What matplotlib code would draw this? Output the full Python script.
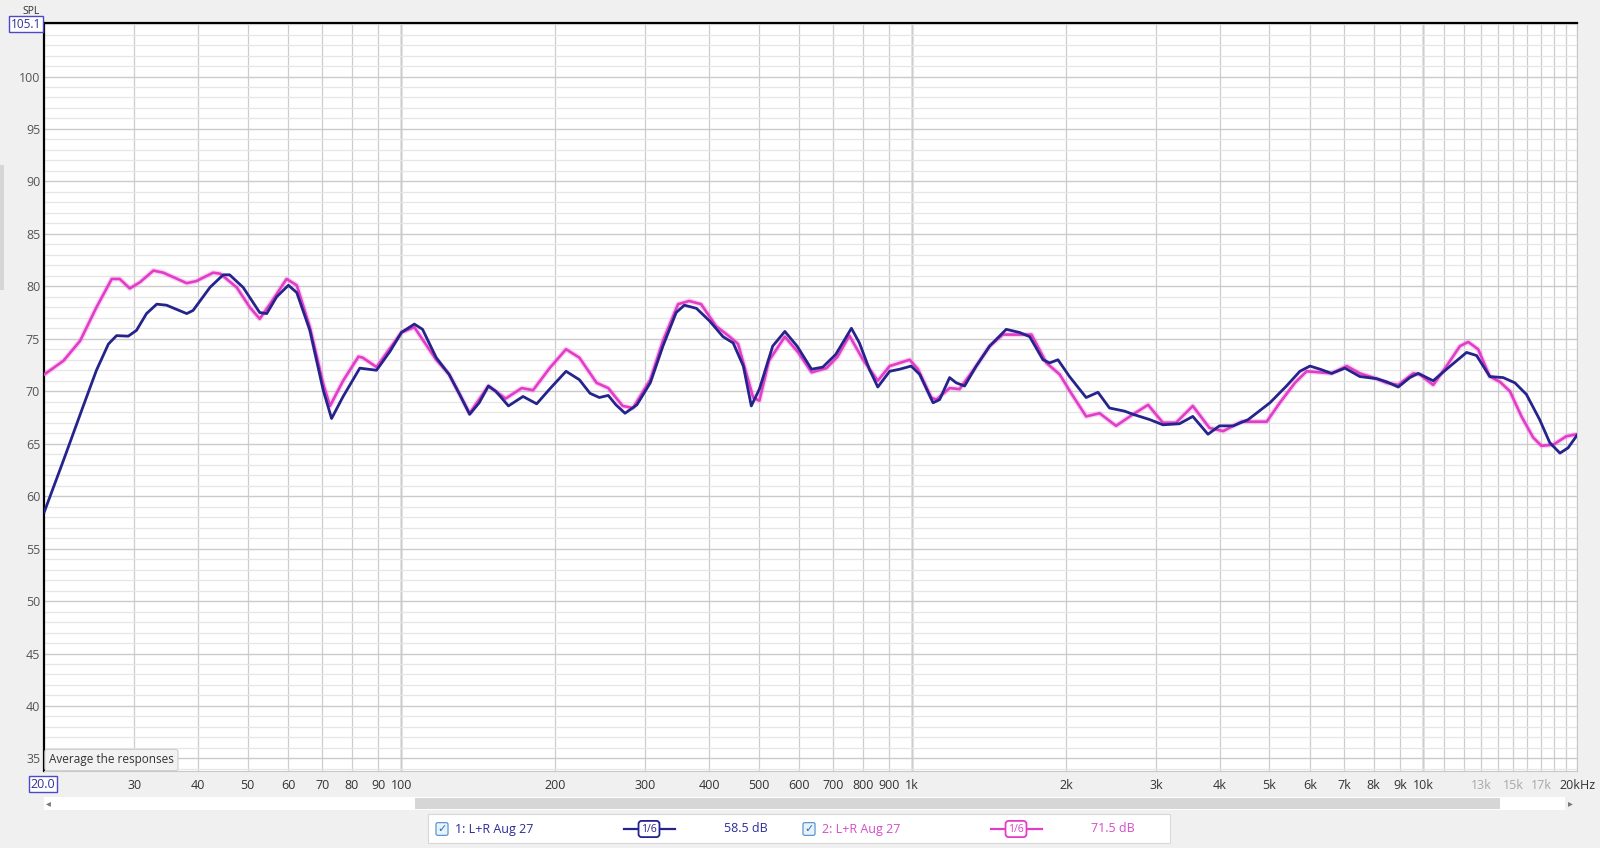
import matplotlib
matplotlib.use('Agg')
import matplotlib.pyplot as plt
from matplotlib.ticker import FixedLocator, NullFormatter
from matplotlib.patches import Rectangle
from matplotlib.lines import Line2D

# measurement 1 (navy), freq in Hz / SPL in dB
freq_1 = [20, 21.8, 23.8, 25.3, 26.7, 27.7, 29.2, 30.3, 31.7, 33.2, 34.7, 38.0, 39.1,
          42.2, 44.8, 46.1, 49.0, 52.8, 54.5, 57.0, 60.1, 62.4, 66.2, 70.3, 73.0, 76.9,
          82.9, 89.4, 95, 100, 106, 110, 117, 124, 130, 136, 142, 148, 153, 162, 173,
          184, 195, 210, 223, 234, 244, 254, 263, 274, 289, 307, 325, 345, 358, 378,
          401, 426, 446, 467, 484, 502, 533, 563, 595, 635, 668, 708, 760, 788, 824,
          856, 903, 945, 995, 1034, 1098, 1131, 1183, 1219, 1266, 1334, 1417, 1527,
          1622, 1697, 1802, 1857, 1928, 2031, 2189, 2309, 2432, 2604, 2704, 2915, 3094,
          3333, 3540, 3791, 3992, 4247, 4545, 5012, 5400, 5735, 6003, 6282, 6618, 7029,
          7516, 8103, 8478, 8936, 9417, 9778, 10460, 11110, 12160, 12720, 13500, 14340,
          15120, 15920, 16900, 17690, 18520, 19210, 20000]
spl_1 = [58.5, 63.4, 68.5, 72.0, 74.5, 75.3, 75.25, 75.8, 77.4, 78.3, 78.2, 77.4, 77.7,
         79.9, 81.1, 81.1, 79.9, 77.5, 77.4, 79.0, 80.1, 79.4, 75.8, 70.1, 67.4, 69.5,
         72.2, 72.0, 73.8, 75.6, 76.4, 75.9, 73.2, 71.6, 69.7, 67.8, 68.9, 70.5, 70.0,
         68.6, 69.5, 68.8, 70.2, 71.9, 71.1, 69.8, 69.4, 69.6, 68.7, 67.9, 68.7, 70.8,
         74.3, 77.5, 78.2, 77.9, 76.7, 75.2, 74.6, 72.4, 68.6, 70.2, 74.3, 75.7, 74.3,
         72.1, 72.3, 73.5, 76.0, 74.6, 72.1, 70.4, 71.9, 72.1, 72.4, 71.6, 68.9, 69.2,
         71.3, 70.8, 70.5, 72.4, 74.3, 75.9, 75.6, 75.2, 73.0, 72.7, 73.0, 71.4, 69.4,
         69.9, 68.4, 68.1, 67.8, 67.3, 66.8, 66.9, 67.6, 65.9, 66.7, 66.7, 67.3, 68.9,
         70.5, 71.9, 72.4, 72.1, 71.7, 72.2, 71.4, 71.2, 70.9, 70.4, 71.3, 71.7, 71.0,
         72.1, 73.7, 73.4, 71.4, 71.3, 70.8, 69.7, 67.3, 65.1, 64.1, 64.6, 65.8]

# measurement 2 (pink)
freq_2 = [20, 21.8, 23.5, 25.3, 27.1, 28.1, 29.4, 30.8, 32.7, 34.2, 38.0, 39.7, 42.8,
          44.2, 47.6, 50.5, 52.8, 55.3, 59.6, 62.4, 66.2, 70.3, 72.5, 76.9, 82.4, 84,
          89.4, 95, 100, 106, 117, 124, 136, 148, 160, 172, 181, 195, 210, 223, 241,
          254, 271, 284, 307, 325, 348, 366, 386, 413, 439, 456, 488, 502, 524, 563,
          598, 635, 679, 714, 753, 801, 856, 903, 945, 988, 1026, 1089, 1114, 1183,
          1237, 1334, 1417, 1504, 1598, 1711, 1830, 1943, 2047, 2189, 2326, 2505, 2704,
          2894, 3094, 3283, 3540, 3817, 4060, 4410, 4940, 5240, 5609, 5913, 6282, 6618,
          7085, 7516, 8103, 8478, 8936, 9560, 9851, 10460, 11110, 11800, 12250, 12810,
          13500, 14130, 14780, 15570, 16410, 17030, 17970, 19050, 20000]
spl_2 = [71.6, 72.9, 74.8, 78.0, 80.7, 80.7, 79.8, 80.4, 81.5, 81.3, 80.3, 80.5, 81.3,
         81.2, 79.9, 78.0, 76.9, 78.3, 80.7, 80.1, 76.1, 70.7, 68.6, 71.0, 73.3, 73.2,
         72.3, 74.1, 75.6, 76.1, 73.0, 71.6, 67.9, 70.5, 69.3, 70.3, 70.1, 72.2, 74.0,
         73.2, 70.8, 70.3, 68.6, 68.4, 71.1, 74.8, 78.3, 78.6, 78.3, 76.2, 75.2, 74.5,
         69.4, 69.1, 72.9, 75.2, 73.7, 71.8, 72.2, 73.3, 75.3, 73.0, 71.0, 72.4, 72.7,
         73.0, 72.1, 69.4, 69.2, 70.3, 70.2, 72.4, 74.3, 75.4, 75.4, 75.4, 72.7, 71.6,
         69.8, 67.6, 67.9, 66.7, 67.8, 68.7, 67.0, 67.0, 68.6, 66.5, 66.2, 67.1, 67.1,
         68.9, 70.8, 71.9, 71.8, 71.7, 72.4, 71.7, 71.2, 70.8, 70.6, 71.7, 71.6, 70.6,
         72.4, 74.3, 74.7, 74.0, 71.4, 70.9, 70.0, 67.6, 65.6, 64.8, 64.9, 65.7, 65.9]

x_ticks = [30, 40, 50, 60, 70, 80, 90, 100, 200, 300, 400, 500, 600, 700, 800, 900,
           1000, 2000, 3000, 4000, 5000, 6000, 7000, 8000, 9000, 10000, 13000, 15000,
           17000, 20000]
x_labels = ['30', '40', '50', '60', '70', '80', '90', '100', '200', '300', '400', '500',
            '600', '700', '800', '900', '1k', '2k', '3k', '4k', '5k', '6k', '7k', '8k',
            '9k', '10k', '13k', '15k', '17k', '20kHz']
x_grid_extra = [11000, 12000, 14000, 16000, 18000, 19000]
y_ticks = list(range(35, 101, 5))

navy = '#25238c'
pink = '#e23cc8'

W, H = 1600, 848
plt.rcParams['font.family'] = ['Open Sans', 'DejaVu Sans']

fig = plt.figure(figsize=(W / 100, H / 100), dpi=100, facecolor='#f0f0f0')
ax = fig.add_axes([44.3 / W, 1 - 771 / H, (1577 - 44.3) / W, (771 - 23) / H])
ax.set_facecolor('white')
ax.set_xscale('log')
ax.set_xlim(20, 20000)
ax.set_ylim(33.8, 105.1)

ax.set_xticks(x_ticks)
ax.set_xticklabels(x_labels)
ax.xaxis.set_minor_locator(FixedLocator(x_grid_extra))
ax.xaxis.set_minor_formatter(NullFormatter())
ax.set_yticks(y_ticks)
ax.yaxis.set_minor_locator(FixedLocator(range(34, 106)))
ax.tick_params(which='both', length=0)
ax.tick_params(axis='x', pad=6, labelsize=9, labelcolor='#333333')
ax.tick_params(axis='y', pad=3, labelsize=9, labelcolor='#555555')
for lbl in ax.get_xticklabels():
    if lbl.get_text() in ('13k', '15k', '17k'):
        lbl.set_color('#a8a8a8')

ax.grid(which='both', axis='x', color='#cdcdcd', lw=0.9)
ax.grid(which='minor', axis='y', color='#e6e6e6', lw=0.9)
ax.grid(which='major', axis='y', color='#cbcbcb', lw=1.0)
for f in [100, 1000, 10000]:
    ax.axvline(f, color='#808080', lw=1.0, zorder=1.5)

for s in ['left', 'top']:
    ax.spines[s].set_color('black')
    ax.spines[s].set_linewidth(1.6)
for s in ['right', 'bottom']:
    ax.spines[s].set_color('#c8c8c8')
    ax.spines[s].set_linewidth(0.8)

# curves
ax.plot(freq_2, spl_2, color=pink, lw=3.8, alpha=0.22, solid_joinstyle='round',
        solid_capstyle='round', zorder=3)
ax.plot(freq_2, spl_2, color=pink, lw=1.9, solid_joinstyle='round', zorder=3)
ax.plot(freq_1, spl_1, color=navy, lw=2.0, solid_joinstyle='round', zorder=4)


def fx(x):
    return x / W


def fy(y):
    return 1 - y / H


# y-axis title and boxed limits
fig.text(fx(31), fy(11), 'SPL', fontsize=7.5, color='#333333', ha='center', va='center')
fig.text(fx(26), fy(24), '105.1', fontsize=8.5, color='#2f2f9a', ha='center', va='center',
         bbox=dict(boxstyle='square,pad=0.15', fc='white', ec='#4a4ac8', lw=1))
fig.text(fx(43), fy(784), '20.0', fontsize=9, color='#2f2f9a', ha='center', va='center',
         bbox=dict(boxstyle='square,pad=0.15', fc='white', ec='#4a4ac8', lw=1))

# tooltip
fig.text(fx(49), fy(760), 'Average the responses', fontsize=8.5, color='#333333',
         ha='left', va='center',
         bbox=dict(boxstyle='round,pad=0.35,rounding_size=0.2', fc='#f2f2f2', ec='#cfcfcf', lw=0.8))

# left side handle
fig.patches.append(Rectangle((0, fy(290)), fx(4), (290 - 165) / H, transform=fig.transFigure,
                             fc='#d6d6d6', ec='none'))

# scrollbar
fig.patches.append(Rectangle((fx(44), fy(810)), fx(1565 - 44), 13 / H, transform=fig.transFigure,
                             fc='white', ec='none'))
fig.patches.append(Rectangle((fx(415), fy(809)), fx(1500 - 415), 11 / H, transform=fig.transFigure,
                             fc='#d6d6d6', ec='none'))
fig.text(fx(48), fy(803), '\u25c2', fontsize=7, color='#777777', ha='center', va='center',
         family=['DejaVu Sans'])
fig.text(fx(1570), fy(803), '\u25b8', fontsize=7, color='#777777', ha='center', va='center',
         family=['DejaVu Sans'])

# legend strip
fig.patches.append(Rectangle((fx(428), fy(843)), fx(1170 - 428), 29 / H, transform=fig.transFigure,
                             fc='white', ec='#d8d8d8', lw=0.8))
yl = 829
for x0, name, val, col, tcol in [(442, '1: L+R Aug 27', '58.5 dB', navy, '#2b2b9a'),
                                  (809, '2: L+R Aug 27', '71.5 dB', pink, '#d64cc6')]:
    fig.text(fx(x0), fy(yl), '\u2713', fontsize=8, color='#2a6fb0', ha='center', va='center',
             family=['DejaVu Sans'],
             bbox=dict(boxstyle='round,pad=0.12,rounding_size=0.15', fc='#e8f2fb', ec='#4d8cc8', lw=0.8))
    fig.text(fx(x0 + 13), fy(yl), name, fontsize=9, color=tcol, ha='left', va='center')
    fig.lines.append(Line2D([fx(x0 + 182), fx(x0 + 233)], [fy(yl), fy(yl)],
                            transform=fig.transFigure, color=col, lw=1.6))
    fig.text(fx(x0 + 207), fy(yl), '1/6', fontsize=7.5, color=col, ha='center', va='center',
             bbox=dict(boxstyle='round,pad=0.25,rounding_size=0.3', fc='white', ec=col, lw=1.3))
    fig.text(fx(x0 + 282), fy(yl), val, fontsize=9, color=tcol, ha='left', va='center')

fig.savefig('out.png', dpi=100, facecolor=fig.get_facecolor())
